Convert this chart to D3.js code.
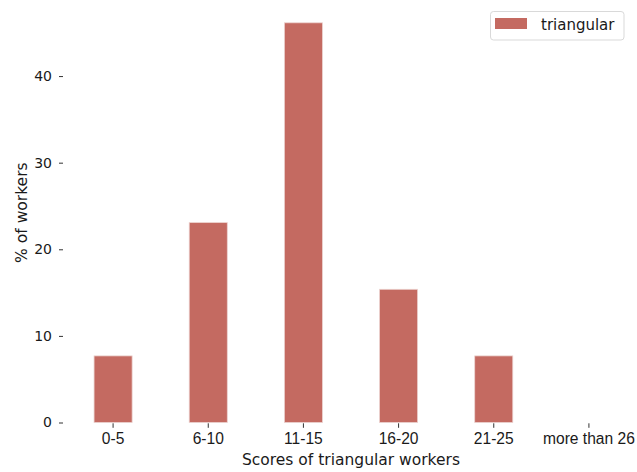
<!DOCTYPE html>
<html>
<head>
<meta charset="utf-8">
<script src="https://cdn.jsdelivr.net/npm/d3@7"></script>
<style>
  html, body { margin: 0; padding: 0; background: #fff; }
  svg { display: block; }
</style>
</head>
<body>
<svg id="chart" width="637" height="472"></svg>
<script>
const categories = ["0-5", "6-10", "11-15", "16-20", "21-25", "more than 26"];
const values = [7.69, 23.08, 46.15, 15.38, 7.69, 0];
const yTicks = [0, 10, 20, 30, 40];
const seriesName = "triangular";
const xLabel = "Scores of triangular workers";
const yLabel = "% of workers";

const svg = d3.select("#chart");
const mLeft = 65.5, mRight = 636.5, mTop = 2.8, mBottom = 422.5;
const barColor = "#c46a61";

const x = d3.scaleBand().domain(categories).range([mLeft, mRight])
  .paddingInner(0.6).paddingOuter(0.3);
const y = d3.scaleLinear().domain([0, 48.46]).range([mBottom, mTop]);

// bars
svg.append("g").selectAll("rect").data(values).join("rect")
  .attr("x", (d, i) => x(categories[i]))
  .attr("y", d => y(d))
  .attr("width", x.bandwidth())
  .attr("height", d => y(0) - y(d))
  .attr("fill", barColor)
  .attr("stroke", d => d > 0 ? "#ecd3d0" : "none")
  .attr("stroke-width", 0.8);

// y axis
const yAxis = d3.axisLeft(y).tickValues(yTicks).tickSize(4).tickPadding(7).tickFormat(d3.format("d"));
const yg = svg.append("g").attr("transform", `translate(${mLeft - 2.5},0)`).call(yAxis);
yg.select(".domain").remove();
yg.selectAll(".tick line").attr("stroke", "#333").attr("stroke-width", 1);
yg.selectAll(".tick text").attr("font-family", "DejaVu Sans").attr("font-size", "14px").attr("fill", "#1a1a1a");

// x axis
const xAxis = d3.axisBottom(x).tickSize(4.5).tickPadding(5);
const xg = svg.append("g").attr("transform", `translate(0,${mBottom + 0.8})`).call(xAxis);
xg.select(".domain").remove();
xg.selectAll(".tick line").attr("stroke", "#333").attr("stroke-width", 1);
xg.selectAll(".tick text").attr("font-family", "Liberation Sans, Arial, sans-serif").attr("font-size", "15.6px").attr("fill", "#1a1a1a");

// axis labels
svg.append("text").attr("x", (mLeft + mRight) / 2).attr("y", 465)
  .attr("text-anchor", "middle").attr("font-family", "DejaVu Sans").attr("font-size", "15.5px").attr("fill", "#1a1a1a")
  .text(xLabel);
svg.append("text").attr("transform", `translate(26.5,${(mTop + mBottom) / 2}) rotate(-90)`)
  .attr("text-anchor", "middle").attr("font-family", "DejaVu Sans").attr("font-size", "15.5px").attr("fill", "#1a1a1a")
  .text(yLabel);

// legend
const lg = svg.append("g");
lg.append("rect").attr("x", 490.5).attr("y", 11.5).attr("width", 133.5).attr("height", 28.5)
  .attr("rx", 3).attr("fill", "#fff").attr("stroke", "#d9d9d9").attr("stroke-width", 1);
lg.append("rect").attr("x", 495).attr("y", 18).attr("width", 32).attr("height", 11).attr("fill", barColor);
lg.append("text").attr("x", 541).attr("y", 30).attr("font-family", "DejaVu Sans").attr("font-size", "15px").attr("fill", "#1a1a1a")
  .text(seriesName);
</script>
</body>
</html>
